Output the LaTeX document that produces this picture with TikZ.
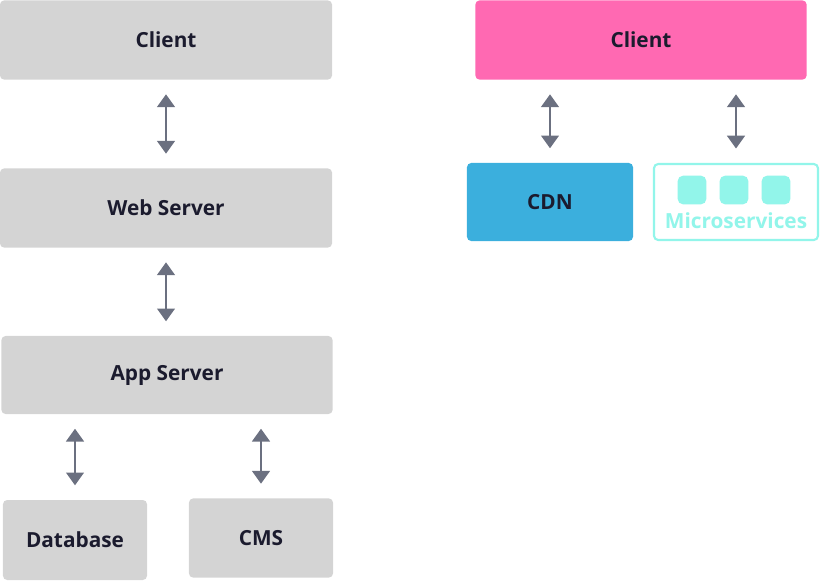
\documentclass[tikz,border=0pt]{standalone}
\usepackage{fontspec}
\setmainfont{Open Sans}
\usepackage{tikz}
\usetikzlibrary{arrows.meta}

\definecolor{boxgray}{HTML}{D4D4D4}
\definecolor{boxpink}{HTML}{FF69B2}
\definecolor{boxblue}{HTML}{3BAFDD}
\definecolor{mscyan}{HTML}{92F5EA}
\definecolor{txtdark}{HTML}{1B1B2E}
\definecolor{arrgray}{HTML}{6B7080}

\tikzset{
  tier/.style={rounded corners=3pt, inner sep=0pt, text=txtdark,
    font=\fontsize{14.8}{17}\selectfont\bfseries},
  link/.style={arrgray, line width=1.8pt,
    {Triangle[width=0.44cm,length=0.32cm]}-{Triangle[width=0.44cm,length=0.32cm]},
    shorten <=0.36cm, shorten >=0.36cm}
}

\begin{document}
\begin{tikzpicture}[x=0.025cm,y=-0.025cm]
  \useasboundingbox (0,0) rectangle (820,580);
  % classic stack
  \node[tier,fill=boxgray,minimum width=8.3cm,minimum height=1.98cm] (cl) at (166,40) {Client};
  \node[tier,fill=boxgray,minimum width=8.3cm,minimum height=1.98cm] (web) at (166,208) {Web Server};
  \node[tier,fill=boxgray,minimum width=8.28cm,minimum height=1.95cm] (app) at (167,375) {App Server};
  \node[tier,fill=boxgray,minimum width=3.6cm,minimum height=2cm] (db) at (75,540) {Database};
  \node[tier,fill=boxgray,minimum width=3.6cm,minimum height=1.98cm] (cms) at (261,538) {CMS};
  \draw[link] (cl) -- (web);
  \draw[link] (web.south) -- (web.south |- app.north);
  \draw[link] (app.south -| db.north) -- (db.north);
  \draw[link] (app.south -| cms.north) -- (cms.north);
  % jamstack
  \node[tier,fill=boxpink,minimum width=8.28cm,minimum height=1.98cm] (jcl) at (641,40) {Client};
  \node[tier,fill=boxblue,minimum width=4.15cm,minimum height=1.95cm] (cdn) at (550,202) {CDN};
  \node[tier,draw=mscyan,line width=1.5pt,fill=white,minimum width=4.1cm,minimum height=1.9cm] (ms) at (736,202) {};
  \foreach \i/\x in {1/692,2/734,3/776}
    \node[rounded corners=4pt,fill=mscyan,minimum size=0.72cm,inner sep=0pt] (ms\i) at (\x,190) {};
  \node[tier,text=mscyan] (msl) at (736,221) {Microservices};
  \draw[link] (cdn.north |- jcl.south) -- (cdn.north);
  \draw[link] (jcl.south -| ms.north) -- (ms.north);
\end{tikzpicture}
\end{document}
